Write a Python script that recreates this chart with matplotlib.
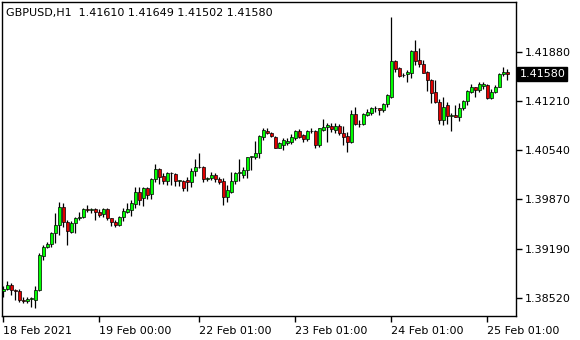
import numpy as np
import matplotlib
matplotlib.use("Agg")
import matplotlib.pyplot as plt

# GBPUSD H1 bars, 18 Feb 2021 00:00 .. 25 Feb 2021 06:00
opens = [1.38612, 1.38635, 1.38694, 1.38626, 1.38612, 1.38489, 1.38471, 1.38503, 1.38489, 1.38626,
         1.39096, 1.39219, 1.39256, 1.39406, 1.39516, 1.39766, 1.39557, 1.39424, 1.39543, 1.39612,
         1.39621, 1.39735, 1.39721, 1.39735, 1.39690, 1.39666, 1.39735, 1.39607, 1.39561, 1.39516,
         1.39629, 1.39698, 1.39721, 1.39799, 1.39963, 1.39881, 1.40018, 1.39936, 1.40145, 1.40278,
         1.40187, 1.40122, 1.40232, 1.40214, 1.40118, 1.40118, 1.40132, 1.40100, 1.40255, 1.40306,
         1.40314, 1.40150, 1.40155, 1.40200, 1.40150, 1.40122, 1.39895, 1.39972, 1.40118, 1.40232,
         1.40200, 1.40269, 1.40443, 1.40451, 1.40506, 1.40725, 1.40803, 1.40771, 1.40725, 1.40574,
         1.40611, 1.40642, 1.40656, 1.40711, 1.40803, 1.40744, 1.40689, 1.40803, 1.40803, 1.40611,
         1.40816, 1.40853, 1.40871, 1.40816, 1.40871, 1.40771, 1.40734, 1.40656, 1.41031, 1.40894,
         1.40894, 1.41022, 1.41045, 1.41122, 1.41113, 1.41090, 1.41168, 1.41272, 1.41761, 1.41661,
         1.41565, 1.41579, 1.41601, 1.41898, 1.41775, 1.41716, 1.41606, 1.41501, 1.41332, 1.41196,
         1.40953, 1.41159, 1.41012, 1.41022, 1.40990, 1.41113, 1.41213, 1.41341, 1.41401, 1.41364,
         1.41423, 1.41432, 1.41250, 1.41341, 1.41409, 1.41579, 1.41610]
highs = [1.38681, 1.38753, 1.38722, 1.38640, 1.38640, 1.38534, 1.38534, 1.38534, 1.38681, 1.39132,
         1.39242, 1.39287, 1.39424, 1.39680, 1.39835, 1.39817, 1.39584, 1.39571, 1.39629, 1.39698,
         1.39744, 1.39790, 1.39753, 1.39744, 1.39735, 1.39744, 1.39744, 1.39616, 1.39584, 1.39639,
         1.39753, 1.39817, 1.39858, 1.40040, 1.40040, 1.40040, 1.40040, 1.40165, 1.40351, 1.40292,
         1.40223, 1.40246, 1.40246, 1.40223, 1.40132, 1.40132, 1.40177, 1.40292, 1.40419, 1.40506,
         1.40323, 1.40177, 1.40246, 1.40223, 1.40177, 1.40155, 1.40063, 1.40246, 1.40246, 1.40419,
         1.40314, 1.40451, 1.40465, 1.40670, 1.40748, 1.40840, 1.40840, 1.40793, 1.40734, 1.40656,
         1.40702, 1.40711, 1.40757, 1.40816, 1.40826, 1.40757, 1.40816, 1.40840, 1.40816, 1.40849,
         1.40967, 1.40908, 1.40908, 1.40908, 1.40894, 1.40871, 1.40793, 1.41090, 1.41135, 1.40953,
         1.41045, 1.41104, 1.41135, 1.41145, 1.41122, 1.41182, 1.41305, 1.42359, 1.41775, 1.41675,
         1.41592, 1.41638, 1.41912, 1.42048, 1.41935, 1.41775, 1.41624, 1.41510, 1.41501, 1.41237,
         1.41272, 1.41204, 1.41045, 1.41159, 1.41190, 1.41227, 1.41364, 1.41446, 1.41409, 1.41469,
         1.41478, 1.41441, 1.41373, 1.41432, 1.41601, 1.41675, 1.41649]
lows = [1.38534, 1.38626, 1.38557, 1.38489, 1.38466, 1.38448, 1.38448, 1.38397, 1.38379, 1.38612,
        1.39037, 1.39201, 1.39219, 1.39269, 1.39379, 1.39492, 1.39242, 1.39406, 1.39406, 1.39584,
        1.39607, 1.39698, 1.39684, 1.39584, 1.39629, 1.39621, 1.39584, 1.39506, 1.39492, 1.39506,
        1.39571, 1.39680, 1.39639, 1.39753, 1.39790, 1.39780, 1.39872, 1.39872, 1.40100, 1.40082,
        1.40082, 1.40063, 1.40063, 1.40050, 1.40050, 1.39981, 1.39981, 1.40040, 1.40191, 1.40292,
        1.40100, 1.40118, 1.40132, 1.40109, 1.40082, 1.39785, 1.39835, 1.39950, 1.40082, 1.40122,
        1.40155, 1.40155, 1.40269, 1.40419, 1.40428, 1.40679, 1.40757, 1.40725, 1.40566, 1.40566,
        1.40542, 1.40611, 1.40625, 1.40679, 1.40711, 1.40656, 1.40666, 1.40771, 1.40565, 1.40588,
        1.40803, 1.40656, 1.40793, 1.40771, 1.40748, 1.40611, 1.40519, 1.40634, 1.40885, 1.40862,
        1.40885, 1.41012, 1.41022, 1.41067, 1.41018, 1.41067, 1.41135, 1.41250, 1.41614, 1.41546,
        1.41546, 1.41478, 1.41532, 1.41706, 1.41683, 1.41592, 1.41350, 1.41182, 1.41190, 1.40894,
        1.40885, 1.40894, 1.40803, 1.40990, 1.40943, 1.41090, 1.41159, 1.41318, 1.41272, 1.41332,
        1.41373, 1.41241, 1.41241, 1.41318, 1.41401, 1.41556, 1.41502]
closes = [1.38640, 1.38690, 1.38626, 1.38612, 1.38489, 1.38475, 1.38507, 1.38516, 1.38626, 1.39105,
          1.39219, 1.39256, 1.39406, 1.39516, 1.39766, 1.39553, 1.39438, 1.39543, 1.39612, 1.39629,
          1.39735, 1.39721, 1.39731, 1.39690, 1.39653, 1.39735, 1.39607, 1.39553, 1.39516, 1.39629,
          1.39707, 1.39735, 1.39821, 1.39963, 1.39858, 1.40018, 1.39926, 1.40145, 1.40278, 1.40177,
          1.40122, 1.40232, 1.40223, 1.40118, 1.40127, 1.40026, 1.40100, 1.40255, 1.40306, 1.40314,
          1.40150, 1.40155, 1.40200, 1.40150, 1.40109, 1.39895, 1.39995, 1.40118, 1.40232, 1.40241,
          1.40269, 1.40443, 1.40460, 1.40506, 1.40734, 1.40816, 1.40771, 1.40739, 1.40574, 1.40634,
          1.40679, 1.40670, 1.40725, 1.40803, 1.40725, 1.40689, 1.40803, 1.40808, 1.40611, 1.40840,
          1.40862, 1.40885, 1.40830, 1.40871, 1.40771, 1.40725, 1.40656, 1.41031, 1.40894, 1.40899,
          1.41031, 1.41059, 1.41122, 1.41113, 1.41090, 1.41168, 1.41295, 1.41761, 1.41651, 1.41560,
          1.41569, 1.41614, 1.41898, 1.41765, 1.41716, 1.41601, 1.41501, 1.41327, 1.41196, 1.40953,
          1.41135, 1.41012, 1.41022, 1.40990, 1.41113, 1.41213, 1.41350, 1.41401, 1.41364, 1.41446,
          1.41446, 1.41250, 1.41341, 1.41409, 1.41583, 1.41606, 1.41580]

price_ticks = [1.41880, 1.41210, 1.40540, 1.39870, 1.39190, 1.38520]
time_tick_bars = [0, 24, 49, 73, 97, 121]
time_tick_labels = ["18 Feb 2021", "19 Feb 00:00", "22 Feb 01:00", "23 Feb 01:00",
                    "24 Feb 01:00", "25 Feb 01:00"]
title = "GBPUSD,H1  1.41610 1.41649 1.41502 1.41580"
last_price = "1.41580"

o = np.array(opens)
h = np.array(highs)
l = np.array(lows)
c = np.array(closes)
x = np.arange(len(o))

fig = plt.figure(figsize=(5.8, 3.4), dpi=100)
ax = fig.add_axes([2 / 580, 24 / 340, 514 / 580, 314 / 340])

ax.vlines(x, l, h, color="black", linewidth=0.9)
up = c >= o
body_h = np.abs(c - o)
body_b = np.minimum(o, c)
ax.bar(x[up], body_h[up], bottom=body_b[up], width=0.75, color="#00ff00",
       edgecolor="black", linewidth=0.5, zorder=3)
ax.bar(x[~up], body_h[~up], bottom=body_b[~up], width=0.75, color="#e00000",
       edgecolor="black", linewidth=0.5, zorder=3)

ax.set_xlim(-0.25, 128.25)
ax.set_ylim(1.38270, 1.42569)

ax.yaxis.tick_right()
ax.set_yticks(price_ticks)
ax.set_yticklabels([f"{p:.5f}" for p in price_ticks])
ax.set_xticks(time_tick_bars)
ax.set_xticklabels(time_tick_labels, ha="left")
ax.tick_params(axis="both", direction="out", length=4, width=1, labelsize=8,
               colors="black", pad=2)
ax.tick_params(axis="x", pad=3)
for sp in ax.spines.values():
    sp.set_linewidth(1)
    sp.set_color("black")

ax.text(0.008, 0.966, title, transform=ax.transAxes, fontsize=8, va="center", ha="left")
ax.text(1.0065, 1.41580, last_price, transform=ax.get_yaxis_transform(), fontsize=8,
        color="white", va="center", ha="left",
        bbox=dict(boxstyle="square,pad=0.2", fc="black", ec="black"))

fig.savefig("out.png", dpi=100)
